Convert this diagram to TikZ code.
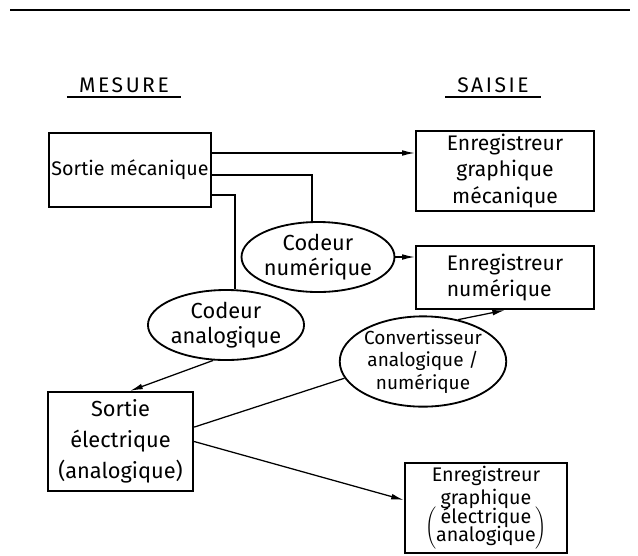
\documentclass[tikz,border=0pt]{standalone}
\usepackage{fontspec}
\setmainfont{Fira Sans}
\usepackage{tikz}
\usetikzlibrary{positioning,arrows.meta,shapes.geometric,calc}

\begin{document}
\begin{tikzpicture}[
  x=0.025cm, y=-0.025cm,
  box/.style={
    rectangle, draw=black, line width=1.6pt, inner sep=2pt,
    font=\fontsize{15}{19}\selectfont, align=center
  },
  codeur/.style={
    ellipse, draw=black, line width=1.3pt, inner sep=0pt,
    minimum width=3cm, minimum height=1.75cm,
    font=\fontsize{15.5}{18}\selectfont, align=center
  },
  titre/.style={font=\fontsize{15}{18}\selectfont\addfontfeatures{LetterSpace=12},
    inner xsep=0.3cm, inner ysep=3pt},
  arrow/.style={-{Latex[length=9pt,width=4pt]}, line width=0.9pt},
  link/.style={line width=0.9pt}
]
\useasboundingbox (0,0) rectangle (638,555);

% === Top rule ===
\draw[line width=1.2pt] (10,10) -- (630,10);

% === Column titles ===
\node[titre] (mesure) at (124,85) {MESURE};
\draw[line width=1pt] (mesure.south west) -- (mesure.south east);
\node[titre] (saisie) at (493,85) {SAISIE};
\draw[line width=1pt] (saisie.south west) -- (saisie.south east);

% === Mesure side ===
\node[box, minimum width=4cm, minimum height=1.85cm,
  font=\fontsize{14}{18}\selectfont] (meca) at (130,170) {Sortie mécanique};
\node[box, minimum width=3.625cm, minimum height=2.475cm,
  font=\fontsize{15.5}{22}\selectfont] (elec) at (120.5,441.5)
  {Sortie\\électrique\\(analogique)};

% === Codeurs ===
\node[codeur] (cnum) at (318,257) {Codeur\\numérique};
\node[codeur] (cana) at (226,325) {Codeur\\analogique};
\node[codeur, minimum width=3.45cm, minimum height=1.975cm,
  font=\fontsize{13.5}{16}\selectfont] (conv) at (423,361.5)
  {Convertisseur\\analogique /\\numérique};

% === Saisie side ===
\node[box, minimum width=4.45cm, minimum height=1.9cm] (egm) at (505,171)
  {Enregistreur\\graphique\\mécanique};
\node[box, minimum width=4.45cm, minimum height=1.575cm, align=left] (enum) at (505,277.5)
  {Enregistreur\\numérique};
\node[box, minimum width=4.05cm, minimum height=2.25cm,
  font=\fontsize{14}{16}\selectfont] (ege) at (486,508)
  {Enregistreur\\graphique\\[-2pt]$\left(\begin{tabular}{@{}c@{}}électrique\\[-3pt]analogique\end{tabular}\right)$};

% === Connections ===
% mechanical output
\draw[arrow] ([yshift=0.425cm]meca.east) coordinate (m1) -- (m1 -| egm.west);
\draw[link] ([yshift=-0.125cm]meca.east) -| ([xshift=-0.15cm]cnum.north);
\draw[link] ([yshift=-0.625cm]meca.east) -| ([xshift=0.225cm]cana.north);

% codeurs
\draw[arrow] (cnum.east) coordinate (c1) -- (c1 -| enum.west);
\draw[arrow] (cana.250) -- ([xshift=0.24cm]elec.north);

% electrical output
\draw[link] ([yshift=0.36cm]elec.east) -- (conv.192);
\draw[arrow] (conv.50) -- (enum.south);
\draw[arrow] (elec.east) -- ([yshift=0.2cm]ege.west);

\end{tikzpicture}
\end{document}
